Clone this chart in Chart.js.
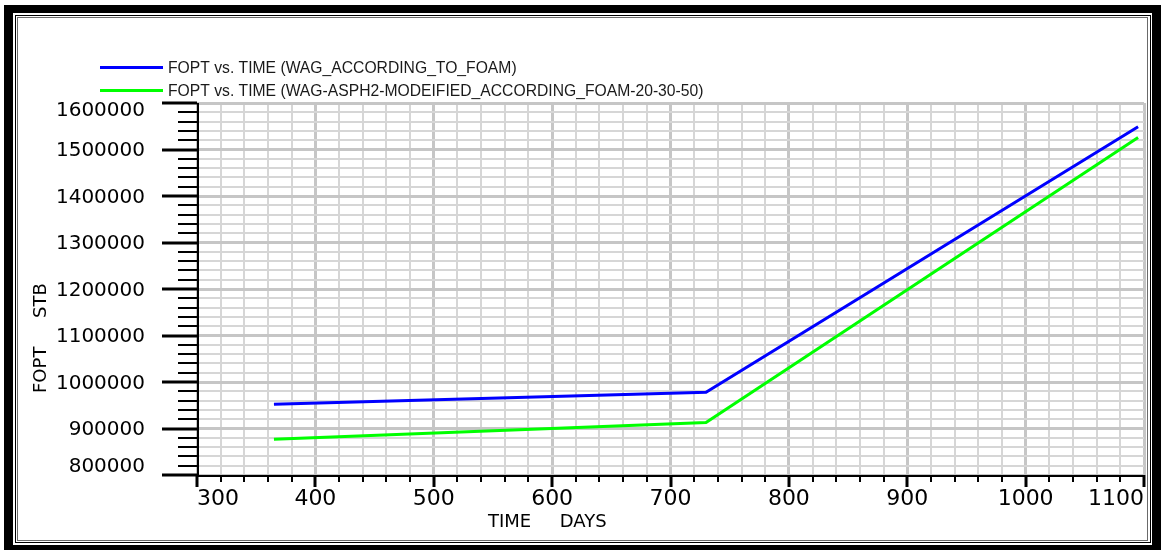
<!DOCTYPE html>
<html>
<head>
<meta charset="utf-8">
<title>FOPT vs. TIME</title>
<script src="https://cdn.jsdelivr.net/npm/chart.js@4/dist/chart.umd.min.js"></script>
<style>
  html, body { margin: 0; padding: 0; background: #fff; overflow: hidden; }
  #plot { display: block; }
</style>
</head>
<body>
<canvas id="plot" width="1162" height="550"></canvas>
<script>
// Field oil production total (STB) against simulation time (days)
const timeDays = [365, 730, 1095];
const foptWagFoam = [952000, 978000, 1549000];
const foptWagAsph = [877000, 913000, 1526000];
const seriesNames = [
  'FOPT vs. TIME (WAG_ACCORDING_TO_FOAM)',
  'FOPT vs. TIME (WAG-ASPH2-MODEIFIED_ACCORDING_FOAM-20-30-50)'
];

// Labelled (major) ticks; minor ticks fall every fifth of a major step
const xMajorTicks = [300, 400, 500, 600, 700, 800, 900, 1000, 1100];
const yMajorTicks = [800000, 900000, 1000000, 1100000, 1200000, 1300000, 1400000, 1500000, 1600000];
const xAxisTitle = 'TIME     DAYS';
const yAxisTitle = 'FOPT     STB';

const toPoints = (xs, ys) => xs.map((x, i) => ({ x: x, y: ys[i] }));
const isMajorX = v => xMajorTicks.includes(v);
const isMajorY = v => yMajorTicks.includes(v);

// Window frame: heavy black border with a thin double rule inside
const framePlugin = {
  id: 'frame',
  beforeDraw(chart) {
    const c = chart.ctx;
    c.save();
    c.fillStyle = '#ffffff';
    c.fillRect(0, 0, chart.width, chart.height);
    c.fillStyle = '#000000';
    c.fillRect(4, 5, 1157, 545);
    c.fillStyle = '#ffffff';
    c.fillRect(13, 13, 1139, 532);
    c.lineWidth = 1;
    c.strokeStyle = '#000000';
    c.strokeRect(15.5, 15.5, 1135, 527);
    c.strokeStyle = '#6a6a6a';
    c.strokeRect(17.5, 17.5, 1130, 523);
    c.restore();
  }
};

// Axis lines, tick marks, value labels, axis titles and the legend
const decorPlugin = {
  id: 'decor',
  afterDraw(chart) {
    const c = chart.ctx;
    const area = chart.chartArea;
    const xs = chart.scales.x;
    const ys = chart.scales.y;
    c.save();
    c.strokeStyle = '#000000';

    // y axis: ticks pointing left
    ys.ticks.forEach(t => {
      const py = Math.round(ys.getPixelForValue(t.value));
      const major = isMajorY(t.value);
      c.lineWidth = major ? 3 : 2;
      c.beginPath();
      c.moveTo(major ? 162 : 178, py);
      c.lineTo(area.left, py);
      c.stroke();
    });
    // x axis: ticks pointing down
    xs.ticks.forEach(t => {
      const px = Math.round(xs.getPixelForValue(t.value));
      const major = isMajorX(t.value);
      c.lineWidth = major ? 3 : 2;
      c.beginPath();
      c.moveTo(px, area.bottom);
      c.lineTo(px, area.bottom + (major ? 12 : 7));
      c.stroke();
    });
    // axis lines
    c.lineWidth = 2;
    c.beginPath();
    c.moveTo(area.left + 1, area.top);
    c.lineTo(area.left + 1, area.bottom + 1);
    c.lineTo(area.right + 1, area.bottom + 1);
    c.stroke();

    // y value labels, first and last kept inside the axis span
    c.fillStyle = '#000000';
    c.font = '20px "DejaVu Sans"';
    c.textAlign = 'right';
    c.textBaseline = 'middle';
    ys.ticks.forEach(t => {
      if (!isMajorY(t.value)) return;
      const py = ys.getPixelForValue(t.value) + 1.5;
      const cy = Math.min(area.bottom - 8, Math.max(area.top + 8, py));
      c.fillText(String(t.value), 145, cy);
    });

    // axis titles
    c.font = '18px "DejaVu Sans"';
    c.textAlign = 'left';
    c.textBaseline = 'middle';
    c.fillText(xAxisTitle, 488, 522);
    c.save();
    c.translate(41, 393);
    c.rotate(-Math.PI / 2);
    c.fillText(yAxisTitle, 0, 0);
    c.restore();

    // legend
    c.font = '15.7px "Liberation Sans", Arial, sans-serif';
    c.fillStyle = '#1a1a1a';
    chart.data.datasets.forEach((ds, i) => {
      const ly = 67.5 + i * 23;
      c.strokeStyle = ds.borderColor;
      c.lineWidth = 3;
      c.beginPath();
      c.moveTo(100, ly);
      c.lineTo(163, ly);
      c.stroke();
      c.fillText(ds.label, 168, ly + 1);
    });
    c.restore();
  }
};

new Chart(document.getElementById('plot'), {
  type: 'line',
  data: {
    datasets: [
      {
        label: seriesNames[0],
        data: toPoints(timeDays, foptWagFoam),
        borderColor: '#0000ff',
        backgroundColor: '#0000ff',
        borderWidth: 3,
        pointRadius: 0,
        tension: 0,
        fill: false
      },
      {
        label: seriesNames[1],
        data: toPoints(timeDays, foptWagAsph),
        borderColor: '#00ff00',
        backgroundColor: '#00ff00',
        borderWidth: 3,
        pointRadius: 0,
        tension: 0,
        fill: false
      }
    ]
  },
  options: {
    responsive: false,
    animation: false,
    devicePixelRatio: 1,
    layout: { padding: { top: 103, right: 18, left: 0, bottom: 0 } },
    plugins: {
      legend: { display: false },
      tooltip: { enabled: false },
      title: { display: false }
    },
    scales: {
      x: {
        type: 'linear',
        min: xMajorTicks[0],
        max: xMajorTicks[xMajorTicks.length - 1],
        afterFit(scale) { scale.height = 75; },
        border: { display: false },
        grid: {
          drawTicks: false,
          color: ctx => isMajorX(ctx.tick.value) ? '#c6c6c6' : '#d6d6d6',
          lineWidth: ctx => isMajorX(ctx.tick.value) ? 3 : 2
        },
        ticks: {
          stepSize: 20,
          autoSkip: false,
          maxRotation: 0,
          minRotation: 0,
          align: 'inner',
          padding: 11,
          color: '#000000',
          font: { family: 'DejaVu Sans', size: 22 },
          callback: v => isMajorX(v) ? String(v) : ''
        }
      },
      y: {
        type: 'linear',
        min: yMajorTicks[0],
        max: yMajorTicks[yMajorTicks.length - 1],
        afterFit(scale) { scale.width = 197; },
        border: { display: false },
        grid: {
          drawTicks: false,
          color: ctx => isMajorY(ctx.tick.value) ? '#c6c6c6' : '#d6d6d6',
          lineWidth: ctx => isMajorY(ctx.tick.value) ? 3 : 2
        },
        ticks: {
          stepSize: 20000,
          autoSkip: false,
          display: false
        }
      }
    }
  },
  plugins: [framePlugin, decorPlugin]
});
</script>
</body>
</html>
